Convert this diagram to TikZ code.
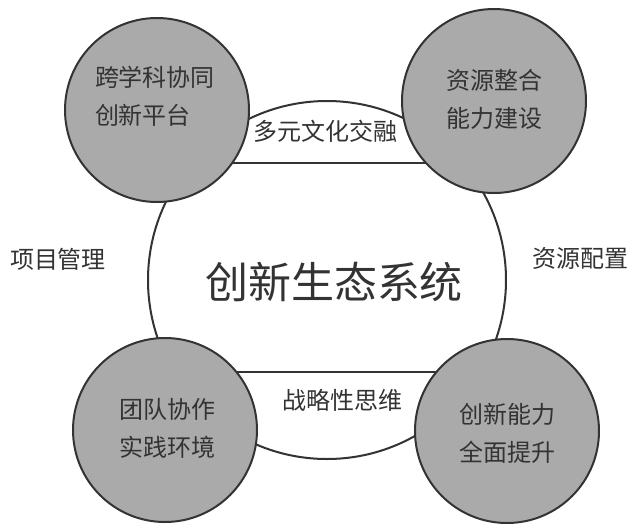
\documentclass[tikz,border=0pt]{standalone}
\usepackage{fontspec}
\newfontfamily\cjk{Noto Sans CJK SC}
\definecolor{linec}{HTML}{333333}
\definecolor{fillc}{HTML}{AAAAAA}
\definecolor{textc}{HTML}{333333}
\begin{document}
\begin{tikzpicture}[x=1pt,y=-1pt,
  ring/.style={circle,draw=linec,line width=2pt,fill=fillc,minimum size=184pt,inner sep=0pt},
  ringtext/.style={text=textc,font=\cjk\fontsize{24}{38}\selectfont,align=left},
  lbl/.style={text=textc,font=\cjk\fontsize{24}{30}\selectfont,inner sep=0pt},
  bigc/.style={circle,draw=linec,line width=2pt,fill=white,minimum size=358pt,inner sep=0pt},
  chord/.style={draw=linec,line width=2pt}]
\useasboundingbox (0,0) rectangle (633,531);
\fill[white] (0,0) rectangle (633,531);
\node[bigc] (big) at (327,280) {};
\node[text=textc,font=\cjk\fontsize{43}{50}\selectfont,inner sep=0pt] (title) at (334,282) {创新生态系统};
\coordinate (t1) at (200,163);
\coordinate (t2) at (460,163);
\coordinate (b1) at (200,372);
\coordinate (b2) at (470,372);
\draw[chord] (t1) -- (t2);
\draw[chord] (b1) -- (b2);
\node[lbl] (m1) at (325,131) {多元文化交融};
\node[lbl] (m2) at (342,400) {战略性思维};
\node[lbl] (s1) at (58,259) {项目管理};
\node[lbl] (s2) at (580,258) {资源配置};
\node[ring] (tl) at (157,110) {};
\node[ring] (tr) at (494,101) {};
\node[ring] (bl) at (165,430) {};
\node[ring] (br) at (507,431) {};
\node[ringtext] at (155,96) {跨学科协同\\创新平台};
\node[ringtext] at (494,99) {资源整合\\能力建设};
\node[ringtext] at (167,428) {团队协作\\实践环境};
\node[ringtext] at (507,433) {创新能力\\全面提升};
\end{tikzpicture}
\end{document}
